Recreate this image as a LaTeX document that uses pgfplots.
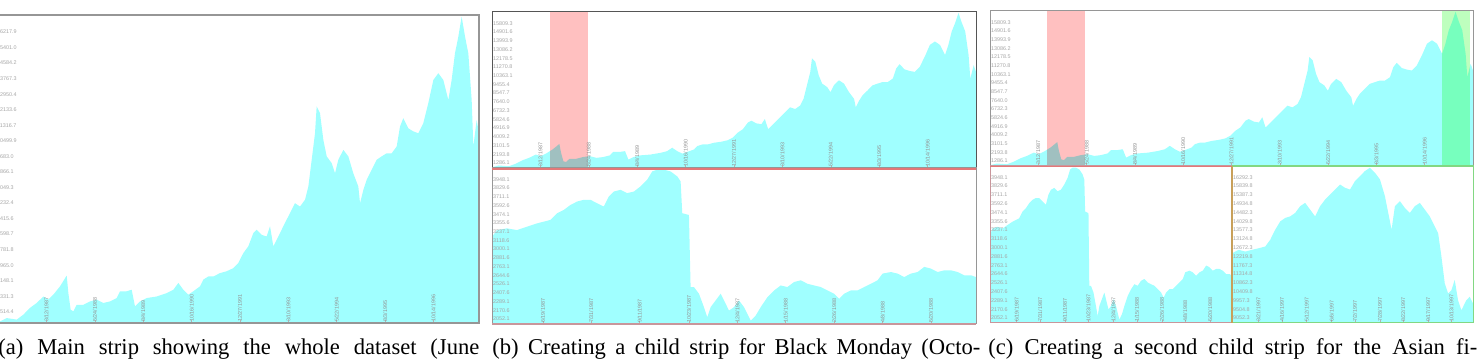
\documentclass[border=0pt]{standalone}
\usepackage{fontspec}
\setmainfont{Liberation Serif}
\setsansfont{Liberation Sans}
\usepackage{pgfplots}
\usepackage{pgfplotstable}
\pgfplotsset{compat=1.18}
\definecolor{cyanfill}{RGB}{160,255,255}
\definecolor{bandred}{RGB}{255,192,192}
\definecolor{bandgreen}{RGB}{190,255,190}
\definecolor{redline}{RGB}{228,120,120}
\definecolor{greenline}{RGB}{130,215,130}
\definecolor{framegray}{RGB}{150,150,150}
\definecolor{darkframe}{RGB}{85,85,85}
\definecolor{pinkframe}{RGB}{200,150,155}
\definecolor{olive}{RGB}{200,160,90}

% main series (whole dataset), normalised to the strip
\pgfplotstableread{
x y
0.0000 0.005
0.0139 0.016
0.0348 0.011
0.0487 0.027
0.0626 0.049
0.0765 0.065
0.0905 0.086
0.1009 0.076
0.1113 0.092
0.1253 0.119
0.1392 0.154
0.1427 0.097
0.1475 0.043
0.1531 0.038
0.1601 0.059
0.1740 0.059
0.1879 0.070
0.2018 0.076
0.2157 0.065
0.2296 0.070
0.2436 0.081
0.2505 0.103
0.2644 0.103
0.2749 0.108
0.2818 0.054
0.2923 0.070
0.3062 0.081
0.3271 0.086
0.3479 0.097
0.3619 0.108
0.3723 0.130
0.3827 0.108
0.3932 0.092
0.4036 0.103
0.4175 0.119
0.4245 0.141
0.4349 0.151
0.4454 0.151
0.4593 0.162
0.4732 0.168
0.4871 0.178
0.4976 0.195
0.5080 0.227
0.5184 0.249
0.5289 0.292
0.5358 0.303
0.5463 0.286
0.5567 0.281
0.5637 0.314
0.5706 0.249
0.5776 0.270
0.5915 0.314
0.6054 0.357
0.6159 0.389
0.6263 0.378
0.6367 0.400
0.6437 0.443
0.6507 0.530
0.6576 0.616
0.6611 0.703
0.6681 0.681
0.6750 0.595
0.6820 0.541
0.6924 0.519
0.6994 0.486
0.7063 0.530
0.7168 0.562
0.7272 0.541
0.7376 0.486
0.7481 0.443
0.7516 0.389
0.7585 0.432
0.7655 0.465
0.7759 0.497
0.7864 0.530
0.7968 0.541
0.8072 0.551
0.8177 0.551
0.8281 0.573
0.8351 0.638
0.8420 0.665
0.8525 0.632
0.8629 0.622
0.8734 0.616
0.8838 0.649
0.8942 0.714
0.9047 0.789
0.9151 0.811
0.9255 0.789
0.9360 0.724
0.9429 0.789
0.9499 0.876
0.9569 0.930
0.9638 0.995
0.9708 0.930
0.9777 0.876
0.9847 0.724
0.9882 0.573
0.9951 0.659
1.0000 0.616
}\mainT

% Black Monday window
\pgfplotstableread{
x y
0.0000 0.559
0.0103 0.602
0.0310 0.613
0.0517 0.602
0.0724 0.624
0.0931 0.645
0.1069 0.656
0.1207 0.667
0.1345 0.710
0.1483 0.731
0.1621 0.763
0.1759 0.785
0.1897 0.796
0.2034 0.796
0.2172 0.774
0.2310 0.753
0.2414 0.817
0.2517 0.849
0.2655 0.860
0.2793 0.839
0.2931 0.849
0.3069 0.882
0.3207 0.925
0.3310 0.978
0.3414 0.989
0.3552 0.989
0.3690 0.978
0.3828 0.946
0.3897 0.914
0.3931 0.710
0.4069 0.699
0.4103 0.237
0.4172 0.237
0.4276 0.194
0.4379 0.108
0.4448 0.043
0.4517 0.108
0.4621 0.151
0.4724 0.194
0.4793 0.151
0.4897 0.086
0.5000 0.108
0.5103 0.151
0.5207 0.108
0.5276 0.065
0.5345 0.022
0.5448 0.054
0.5552 0.108
0.5690 0.172
0.5828 0.215
0.5966 0.247
0.6103 0.237
0.6241 0.269
0.6379 0.280
0.6517 0.258
0.6655 0.247
0.6793 0.237
0.6931 0.215
0.7069 0.194
0.7172 0.161
0.7276 0.194
0.7414 0.215
0.7552 0.215
0.7690 0.237
0.7828 0.258
0.7966 0.280
0.8069 0.323
0.8241 0.333
0.8379 0.323
0.8517 0.301
0.8655 0.323
0.8793 0.333
0.8931 0.366
0.9069 0.355
0.9207 0.333
0.9345 0.344
0.9483 0.344
0.9621 0.333
0.9759 0.312
0.9897 0.312
1.0000 0.301
}\bmT

% Asian financial crisis window
\pgfplotstableread{
x y
0.0000 0.444
0.0276 0.466
0.0552 0.455
0.0828 0.466
0.1103 0.476
0.1379 0.487
0.1586 0.530
0.1793 0.594
0.2000 0.647
0.2207 0.669
0.2414 0.679
0.2621 0.701
0.2828 0.744
0.3034 0.765
0.3241 0.722
0.3448 0.679
0.3655 0.744
0.3862 0.786
0.4069 0.818
0.4276 0.850
0.4483 0.882
0.4690 0.861
0.4897 0.850
0.5103 0.904
0.5310 0.936
0.5517 0.968
0.5724 0.989
0.5931 0.957
0.6138 0.915
0.6345 0.808
0.6483 0.701
0.6621 0.594
0.6759 0.744
0.6966 0.776
0.7172 0.733
0.7379 0.701
0.7586 0.744
0.7793 0.765
0.8000 0.722
0.8207 0.679
0.8414 0.615
0.8552 0.573
0.8690 0.423
0.8828 0.252
0.8966 0.188
0.9103 0.209
0.9241 0.274
0.9379 0.145
0.9517 0.081
0.9724 0.145
0.9862 0.167
1.0000 0.124
}\afcT

\newcommand\tickfont{\sffamily\fontsize{2.7}{2.9}\selectfont}

\pgfplotsset{
  strip/.style={
    scale only axis, anchor=south west,
    xmin=0, xmax=1, ymin=0, ymax=1,
    axis on top,
    axis line style={draw=framegray, line width=0.5pt},
    tick align=inside, xtick pos=left, ytick pos=left,
    major tick length=1.6pt,
    xtick style={draw=gray!60, line width=0.3pt},
    ytick style={draw=none},
    tick label style={font=\tickfont, text=gray!70, inner sep=0.4pt},
    yticklabel style={anchor=west},
    xticklabel style={rotate=90, anchor=west, text=gray!85},
  },
  stripticks/.style={
    ytick={0.032,0.088,0.144,0.200,0.256,0.312,0.368,0.424,0.480,0.536,0.592,0.648,0.704,0.760,0.816,0.872,0.928},
  },
  mainlabels/.style={stripticks,
    yticklabels={1286.1,2193.8,3101.5,4009.2,4916.9,5824.6,6732.3,7640.0,8547.7,9455.4,10363.1,11270.8,12178.5,13086.2,13993.9,14901.6,15809.3},
    xtick={0.1,0.2,0.3,0.4,0.5,0.6,0.7,0.8,0.9},
    xticklabels={3/12/1987,5/24/1988,8/4/1989,10/16/1990,12/27/1991,3/10/1993,5/22/1994,8/3/1995,10/14/1996},
  },
  bmlabels/.style={stripticks,
    yticklabels={2052.1,2170.6,2289.1,2407.6,2526.1,2644.6,2763.1,2881.6,3000.1,3118.6,3237.1,3355.6,3474.1,3592.6,3711.1,3829.6,3948.1},
    xticklabels={6/19/1987,7/31/1987,9/11/1987,10/23/1987,12/4/1987,1/15/1988,2/26/1988,4/8/1988,5/20/1988},
  },
  afclabels/.style={stripticks,
    yticklabels={9052.3,9504.8,9957.3,10409.8,10862.3,11314.8,11767.3,12219.8,12672.3,13124.8,13577.3,14029.8,14482.3,14934.8,15387.3,15839.8,16292.3},
    xticklabels={3/21/1997,4/16/1997,5/12/1997,6/6/1997,7/2/1997,7/28/1997,8/22/1997,9/17/1997,10/13/1997},
  },
}

\begin{document}
\begin{tikzpicture}
\useasboundingbox (0,0) rectangle (738.5pt,181pt);

% ---------- (a) ----------
\begin{axis}[strip, at={(-2pt,19.5pt)}, width=241.5pt, height=154pt,
  xmin=-0.0084,
  ytick={0.036,0.0865,0.137,0.1875,0.238,0.2885,0.339,0.3895,0.44,0.4905,0.541,0.5915,0.642,0.6925,0.743,0.7935,0.844,0.8945,0.945},
  yticklabels={1514.4,2331.3,3148.1,3965.0,4781.8,5598.7,6415.6,7232.4,8049.3,8866.1,9683.0,10499.9,11316.7,12133.6,12950.4,13767.3,14584.2,15401.0,16217.9},
  xtick={0.097,0.198,0.299,0.400,0.501,0.602,0.703,0.804,0.905},
  xticklabels={3/12/1987,5/24/1988,8/4/1989,10/16/1990,12/27/1991,3/10/1993,5/22/1994,8/3/1995,10/14/1996},
  axis line style={draw=framegray, line width=0.8pt}]
\addplot[fill=cyanfill, draw=none] table {\mainT} \closedcycle;
\end{axis}

% ---------- (b) top ----------
\begin{axis}[strip, mainlabels, at={(246pt,97pt)}, width=242pt, height=78pt,
  axis line style={draw=darkframe, line width=0.5pt}]
\addplot[fill=cyanfill, draw=none] table {\mainT} \closedcycle;
\addplot[draw=none, fill=bandred, blend mode=multiply] coordinates {(0.119,1) (0.198,1)} \closedcycle;
\end{axis}
% ---------- (b) bottom ----------
\begin{axis}[strip, bmlabels, at={(246pt,19pt)}, width=242pt, height=78pt,
  xtick={0.105,0.205,0.305,0.407,0.507,0.607,0.707,0.807,0.907}]
\addplot[fill=cyanfill, draw=none] table {\bmT} \closedcycle;
\end{axis}

% ---------- (c) top ----------
\begin{axis}[strip, mainlabels, at={(495pt,98pt)}, width=241.5pt, height=77.5pt]
\addplot[fill=cyanfill, draw=none] table {\mainT} \closedcycle;
\addplot[draw=none, fill=bandred, blend mode=multiply] coordinates {(0.117,1) (0.197,1)} \closedcycle;
\addplot[draw=none, fill=bandgreen, blend mode=multiply] coordinates {(0.936,1) (0.993,1)} \closedcycle;
\end{axis}
% ---------- (c) bottom left ----------
\begin{axis}[strip, bmlabels, at={(495pt,19.5pt)}, width=121pt, height=78.5pt,
  xtick={0.110,0.207,0.310,0.407,0.510,0.607,0.710,0.807,0.910},
  axis line style={draw=pinkframe, line width=0.5pt}]
\addplot[fill=cyanfill, draw=none] table {\bmT} \closedcycle;
\end{axis}
% ---------- (c) bottom right ----------
\begin{axis}[strip, afclabels, at={(616pt,19.5pt)}, width=120.5pt, height=78.5pt,
  xtick={0.110,0.207,0.310,0.414,0.510,0.614,0.710,0.814,0.910},
  axis line style={draw=greenline, line width=0.5pt}]
\addplot[fill=cyanfill, draw=none] table {\afcT} \closedcycle;
\end{axis}

% coloured separators
\draw[redline, line width=0.8pt] (246pt,96.6pt) -- (488pt,96.6pt);
\draw[pinkframe, line width=0.6pt] (246pt,19pt) -- (488pt,19pt);
\draw[redline, line width=0.7pt] (495pt,97.8pt) -- (616pt,97.8pt);
\draw[greenline, line width=0.7pt] (616pt,97.8pt) -- (736.5pt,97.8pt);
\draw[olive, line width=0.6pt] (616pt,19.5pt) -- (616pt,97.8pt);

% captions
\node[anchor=base west, inner sep=0pt, font=\fontsize{11.3}{13}\selectfont] at (-1pt,3.5pt)
  {\makebox[240.5pt][s]{(a) Main strip showing the whole dataset (June}};
\node[anchor=base west, inner sep=0pt, font=\fontsize{11.3}{13}\selectfont] at (246pt,3.5pt)
  {\makebox[244pt][s]{(b) Creating a child strip for Black Monday (Octo-}};
\node[anchor=base west, inner sep=0pt, font=\fontsize{11.3}{13}\selectfont] at (494pt,3.5pt)
  {\makebox[244.5pt][s]{(c) Creating a second child strip for the Asian fi-}};
\end{tikzpicture}
\end{document}
